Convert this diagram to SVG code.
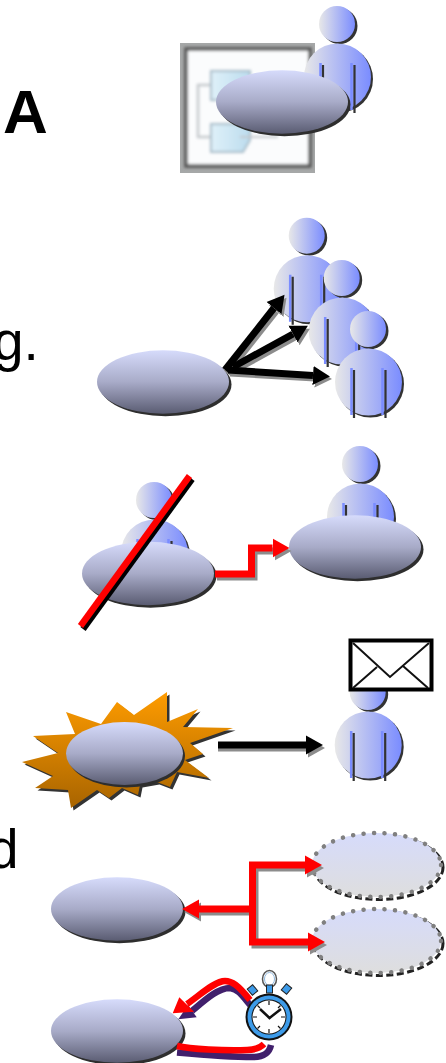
<svg xmlns="http://www.w3.org/2000/svg" width="446" height="1063" viewBox="0 0 446 1063">
<style>
.t{font-family:"Liberation Sans",Arial,sans-serif;font-size:55px;fill:#000}
.c{fill:none;stroke-linejoin:miter}
.sh{stroke:#8c8c8c}
.r{stroke:#f00}
.k{stroke:#000}
</style>
<defs>
<linearGradient id="pg"><stop offset="0" stop-color="#e8e8e8"/><stop offset="1" stop-color="#7a8cff"/></linearGradient>
<linearGradient id="eg" x1="0" y1="0" x2="0" y2="1"><stop offset="0" stop-color="#d6dbfb"/><stop offset=".5" stop-color="#a8abc8"/><stop offset="1" stop-color="#5a5c72"/></linearGradient>
<linearGradient id="dg" x1="0" y1="0" x2="0" y2="1"><stop offset="0" stop-color="#d6dbfb"/><stop offset="1" stop-color="#dedede"/></linearGradient>
<linearGradient id="sg" x1="0" y1="0" x2="0" y2="1"><stop offset="0" stop-color="#ff9c00"/><stop offset="1" stop-color="#a86400"/></linearGradient>
<linearGradient id="tg"><stop offset="0" stop-color="#dff0f9"/><stop offset="1" stop-color="#bcdcee"/></linearGradient>
<filter id="b1" x="-5%" y="-5%" width="110%" height="110%"><feGaussianBlur stdDeviation="1.4"/></filter>
<clipPath id="tc"><rect x="180" y="43" width="135" height="130"/></clipPath>
<marker id="mk" markerUnits="userSpaceOnUse" markerWidth="20" markerHeight="22" refX="0" refY="11" orient="auto"><path d="M0,1.500L17,11L0,20.500z" fill="#000"/></marker>
<marker id="mg" markerUnits="userSpaceOnUse" markerWidth="20" markerHeight="22" refX="0" refY="11" orient="auto"><path d="M0,1.500L17,11L0,20.500z" fill="#8c8c8c"/></marker>
<marker id="mr" markerUnits="userSpaceOnUse" markerWidth="20" markerHeight="22" refX="0" refY="11" orient="auto"><path d="M0,1.500L17,11L0,20.500z" fill="#f00"/></marker>
<g id="person">
<circle cx="2.500" cy="2" r="18" fill="#333"/>
<circle cx="0" cy="0" r="18" fill="url(#pg)"/>
<circle cx="2.500" cy="55" r="33.500" fill="#333"/>
<circle cx="0.500" cy="53" r="33.500" fill="url(#pg)"/>
<path d="M-16.500,39V86M14.500,39V86" stroke="#7a8cff" stroke-width="2.500" fill="none"/>
<path d="M-14,41V89M17.500,41V89" stroke="#333" stroke-width="2.200" fill="none"/>
</g>
<g id="oval">
<ellipse cx="2.500" cy="2.500" rx="66" ry="31.700" fill="#2e2e2e"/>
<ellipse cx="0" cy="0" rx="66" ry="31.700" fill="url(#eg)"/>
</g>
<g id="dashed">
<ellipse cx="2" cy="2.500" rx="64.500" ry="32" fill="none" stroke="#222" stroke-width="3" stroke-dasharray="7 3.500"/>
<ellipse cx="0" cy="0" rx="64.500" ry="32" fill="url(#dg)"/>
<ellipse cx="0" cy="0" rx="64.500" ry="32" fill="none" stroke="#808080" stroke-width="4.500" stroke-dasharray="0.100 10.400" stroke-linecap="round"/>
</g>
</defs>
<rect width="446" height="1063" fill="#fff"/>

<g id="labels">
<text class="t" x="3" y="133" style="font-size:62px;font-weight:700">A</text>
<text class="t" x="-7" y="360">g.</text>
<text class="t" x="-12" y="868">d</text>
</g>

<g id="thumbnail" clip-path="url(#tc)">
<rect x="180" y="43" width="135" height="130" fill="#a6a8a8"/>
<rect x="186" y="49" width="124" height="117" fill="#fbfcfd" stroke="#555" stroke-width="3.500" filter="url(#b1)"/>
<g filter="url(#b1)">
<path d="M210,85H198V137H213" fill="none" stroke="#c4c8cc" stroke-width="2.500"/>
<path d="M211,71H250V92L240,100H211z" fill="url(#tg)" stroke="#a8bcc8" stroke-width="2"/>
<path d="M211,124H250V140L243,152H211z" fill="url(#tg)" stroke="#a8bcc8" stroke-width="2"/>
<path d="M240,137H278" stroke="#c4c8cc" stroke-width="2"/>
</g>
</g>

<g id="person-1"><use href="#person" x="337" y="24"/></g>
<g id="oval-1"><use href="#oval" x="282" y="102"/></g>

<g id="person-2"><use href="#person" x="306.700" y="235.700"/></g>
<g id="person-3"><use href="#person" x="341.700" y="278"/></g>
<g id="person-4"><use href="#person" x="368" y="329"/></g>
<g id="oval-2"><use href="#oval" x="163" y="382"/></g>

<g id="person-5"><use href="#person" x="154" y="500"/></g>
<g id="oval-3"><use href="#oval" x="148" y="573.500"/></g>
<g id="person-6"><use href="#person" x="360" y="464"/></g>
<g id="oval-4"><use href="#oval" x="355" y="547"/></g>

<g id="strike">
<path d="M83,629L192,479" stroke="#000" stroke-width="6.500" fill="none"/>
<path d="M80.500,626L189.500,476" stroke="#f00" stroke-width="6.500" fill="none"/>
</g>

<g id="burst">
<polygon transform="translate(2.500,2.500)" fill="#333" points="167,692 167,722 198,709 183,727 233,728 190,743 203,754 185,760 209,778 177,772 170,787 157,782 140,785 138,795 122,788 109,798 97,790 71,808 68,790 35,788 53,776 22,762 58,753 33,736 75,734 66,712 101,724 117,702 134,715"/>
<polygon fill="url(#sg)" points="167,692 167,722 198,709 183,727 233,728 190,743 203,754 185,760 209,778 177,772 170,787 157,782 140,785 138,795 122,788 109,798 97,790 71,808 68,790 35,788 53,776 22,762 58,753 33,736 75,734 66,712 101,724 117,702 134,715"/>
</g>
<g id="oval-5">
<ellipse cx="126.500" cy="756" rx="58.500" ry="31.500" fill="#2e2e2e"/>
<ellipse cx="124.500" cy="753.500" rx="58.500" ry="31.500" fill="url(#eg)"/>
</g>
<g id="person-7"><use href="#person" x="367.700" y="692"/></g>
<g id="envelope">
<rect x="350.500" y="640.500" width="81" height="49" fill="#fff" stroke="#000" stroke-width="4"/>
<path d="M353,643L390,677L429,643M353,688L377,667M428,688L403,666" fill="none" stroke="#111" stroke-width="2"/>
</g>

<g id="oval-6"><use href="#oval" x="117" y="909"/></g>
<g id="dashed-1"><use href="#dashed" x="376.500" y="865"/></g>
<g id="dashed-2"><use href="#dashed" x="376.500" y="941"/></g>
<g id="oval-7"><use href="#oval" x="117" y="1031"/></g>

<g id="connectors">
<g class="c" stroke-width="7">
<path class="sh" marker-end="url(#mg)" d="M227,373L276,311"/>
<path class="sh" marker-end="url(#mg)" d="M235,370L295,337"/>
<path class="sh" marker-end="url(#mg)" d="M230,373L315,378"/>
<path class="k" marker-end="url(#mk)" d="M225,370L274,308"/>
<path class="k" marker-end="url(#mk)" d="M233,367L293,334"/>
<path class="k" marker-end="url(#mk)" d="M228,370L313,375.500"/>

<path class="sh" marker-end="url(#mg)" d="M217,577H254V551H274.500"/>
<path class="r" marker-end="url(#mr)" d="M215,574H251.500V548H272.500"/>

<path class="sh" marker-end="url(#mg)" d="M218,748H308"/>
<path class="k" marker-end="url(#mk)" d="M218,745H306"/>

<path class="sh" marker-end="url(#mg)" d="M255,912H201"/>
<path class="sh" marker-end="url(#mg)" d="M255,912V868H307"/>
<path class="sh" marker-end="url(#mg)" d="M255,912V945H310"/>
<path class="r" marker-end="url(#mr)" d="M253,909H199"/>
<path class="r" marker-end="url(#mr)" d="M252.500,909V865H305"/>
<path class="r" marker-end="url(#mr)" d="M252.500,909V942H308"/>
</g>
<g id="loop" fill="none">
<path d="M250,1005C242,995 238,989 230,988C218,988 205,1000 192,1011" stroke="#41206c" stroke-width="6.500"/>
<path d="M178.300,1019.300L196.700,1017.300L188,1005z" fill="#41206c"/>
<path d="M177,1052.500C205,1055 235,1057 253,1057C263,1057 269,1054 271,1045" stroke="#41206c" stroke-width="6.500"/>
<path d="M250,1000C238,985 232,981 225,981C215,981 200,995 187,1004" stroke="#f00" stroke-width="6.500"/>
<path d="M172.700,1013.300L194,1011.700L179.300,997.300z" fill="#f00"/>
<path d="M177,1046C190,1049 225,1051 247,1050C255,1050 260,1048 264,1044" stroke="#f00" stroke-width="6.500"/>
</g>
</g>

<g id="stopwatch">
<ellipse cx="269.500" cy="979" rx="7" ry="8.500" fill="#fff" stroke="#555" stroke-width="1.500"/>
<ellipse cx="269.500" cy="979" rx="5" ry="6.500" fill="none" stroke="#8fb8de" stroke-width="1"/>
<rect x="266.500" y="985" width="6" height="8" fill="#3d9be9" stroke="#222"/>
<rect x="249" y="986" width="7" height="8" fill="#3d9be9" stroke="#222" transform="rotate(-40 252.500 990)"/>
<rect x="283" y="985" width="7" height="8" fill="#3d9be9" stroke="#222" transform="rotate(40 286.500 989)"/>
<circle cx="269" cy="1017" r="23.500" fill="#111"/>
<circle cx="269" cy="1017" r="21.500" fill="#3d9be9"/>
<circle cx="269" cy="1017" r="17.500" fill="#111"/>
<circle cx="269" cy="1017" r="16.500" fill="#fff"/>
<path d="M269,1001V1005M269,1029V1033M253,1017H257M281,1017H285M257.500,1005.500L260,1008M280.500,1005.500L278,1008M257.500,1028.500L260,1026M280.500,1028.500L278,1026" stroke="#111" stroke-width="1.200"/>
<path d="M260,1009L269.500,1018L281,1009" fill="none" stroke="#111" stroke-width="2.500"/>
</g>
</svg>
